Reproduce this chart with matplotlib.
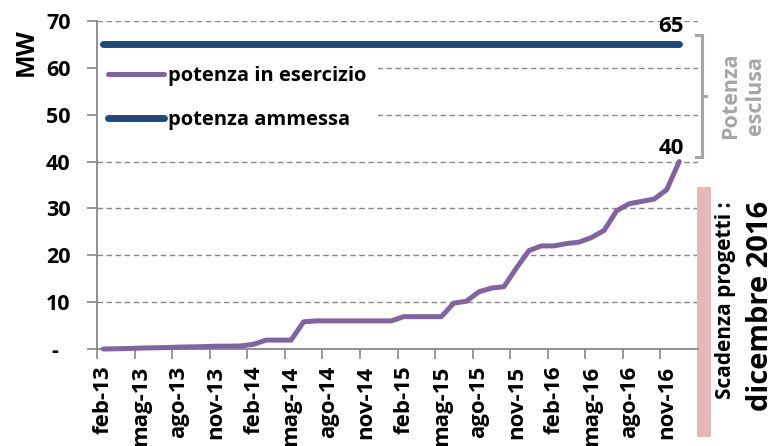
import matplotlib
matplotlib.use("Agg")
import matplotlib.pyplot as plt
import matplotlib.transforms as mtransforms
from matplotlib.patches import Rectangle

plt.rcParams['font.family'] = ['Open Sans', 'DejaVu Sans']

# Monthly categories feb-13 .. jan-17 (last category has no data)
months = ["feb", "mar", "apr", "mag", "giu", "lug", "ago", "set", "ott", "nov", "dic", "gen"]
categories = []
for k in range(48):
    m = months[k % 12]
    yr = 13 + (k + 1) // 12
    categories.append(f"{m}-{yr}")

# Installed capacity in operation (MW), feb-13 .. dic-16
potenza_esercizio = [
    0.0, 0.05, 0.1, 0.2, 0.25, 0.3, 0.4, 0.45, 0.5, 0.6, 0.6, 0.65,
    1.0, 1.9, 1.9, 1.9, 5.8, 6.0, 6.0, 6.0, 6.0, 6.0, 6.0, 6.0,
    6.9, 6.9, 6.9, 6.9, 9.8, 10.2, 12.2, 13.0, 13.3, 17.3, 21.0, 22.0,
    22.0, 22.5, 22.8, 23.8, 25.3, 29.5, 31.0, 31.5, 32.0, 34.0, 40.0,
]
# Admitted capacity (MW)
potenza_ammessa = [65.0] * len(potenza_esercizio)

y_ticks = [0, 10, 20, 30, 40, 50, 60, 70]
y_labels = ["-  ", "10", "20", "30", "40", "50", "60", "70"]

purple = "#8064A2"
blue = "#1F497D"
gray = "#A6A6A6"

fig = plt.figure(figsize=(7.78, 4.46), dpi=100)
ax = fig.add_axes([97 / 778, 1 - 349 / 446, 601 / 778, 328 / 446])

x = list(range(len(potenza_esercizio)))
ax.plot(x, potenza_esercizio, color=purple, lw=3.6, solid_capstyle="round",
        label="potenza in esercizio", zorder=3, clip_on=False)
ax.plot(x, potenza_ammessa, color=blue, lw=5.0, solid_capstyle="round",
        label="potenza ammessa", zorder=3, clip_on=False)

ax.set_xlim(-0.5, len(categories) - 0.5)
ax.set_ylim(0, 70)

# category axis: ticks between categories, every 3 months
ax.set_xticks([i - 0.5 for i in range(0, len(categories) + 1, 3)])
ax.set_xticklabels([])
ax.set_xticks(list(range(0, len(categories), 3)), minor=True)
ax.set_xticklabels([categories[i] for i in range(0, len(categories), 3)],
                   minor=True, rotation=90, fontsize=16, fontweight="bold")
ax.tick_params(axis="x", which="minor", length=0, pad=12)
ax.tick_params(axis="x", which="major", length=7, width=1.2, color="#888888",
               direction="out")

ax.set_yticks(y_ticks)
ax.set_yticklabels(y_labels, fontsize=15.5, fontweight="bold")
ax.tick_params(axis="y", length=7, width=1.2, color="#888888", pad=12)

for s in ["top", "right"]:
    ax.spines[s].set_visible(False)
for s in ["left", "bottom"]:
    ax.spines[s].set_color("#888888")
    ax.spines[s].set_linewidth(1.3)

ax.yaxis.grid(True, linestyle=(0, (4, 2.5)), color="#888888", lw=1.0)
ax.set_axisbelow(True)

ax.text(-0.118, 0.905, "MW", transform=ax.transAxes, rotation=90,
        fontsize=18, fontweight="bold", ha="center", va="center")

leg = ax.legend(loc="upper left", bbox_to_anchor=(0.0, 0.896), frameon=True,
                fontsize=14.5, handlelength=2.8, handletextpad=0.2,
                labelspacing=1.2, borderpad=0.55, borderaxespad=0.0)
for t in leg.get_texts():
    t.set_fontweight("bold")
fr = leg.get_frame()
fr.set_facecolor("white")
fr.set_edgecolor("none")
fr.set_alpha(1)
leg.set_zorder(2.2)

last = len(potenza_esercizio) - 1
ax.annotate(f"{potenza_ammessa[last]:.0f}", (last, potenza_ammessa[last]),
            xytext=(5, 7), textcoords="offset pixels", ha="right", va="bottom",
            fontsize=16, fontweight="bold")
ax.annotate(f"{potenza_esercizio[last]:.0f}", (last, potenza_esercizio[last]),
            xytext=(5, 3), textcoords="offset pixels", ha="right", va="bottom",
            fontsize=16, fontweight="bold")

# bracket marking the excluded capacity
tr = mtransforms.blended_transform_factory(ax.transAxes, ax.transData)
top = potenza_ammessa[last] + 2
bot = potenza_esercizio[last] + 1
mid = (top + bot) / 2
xb = 1.0065
ax.plot([0.9965, xb, xb, 0.9965], [top, top, bot, bot], color=gray, lw=2.2,
        transform=tr, clip_on=False, solid_joinstyle="miter")
ax.plot([xb, 1.014], [mid, mid], color=gray, lw=2.2, transform=tr, clip_on=False)
ax.text(1.075, mid, "Potenza\nesclusa", transform=tr, rotation=90,
        ha="center", va="center", fontsize=15.5, fontweight="bold", color=gray,
        linespacing=1.3)

# deadline marker
ax.add_patch(Rectangle((0.9983, -0.268), 0.0233, 0.762, transform=ax.transAxes,
                       facecolor="#E6B9B8", edgecolor="none", clip_on=False))
ax.text(1.046, 0.149, "Scadenza progetti :", transform=ax.transAxes,
        rotation=90, ha="center", va="center", fontsize=15, fontweight="bold")
ax.text(1.104, 0.131, "dicembre 2016", transform=ax.transAxes,
        rotation=90, ha="center", va="center", fontsize=21, fontweight="bold")

fig.savefig("out.png", dpi=100)
